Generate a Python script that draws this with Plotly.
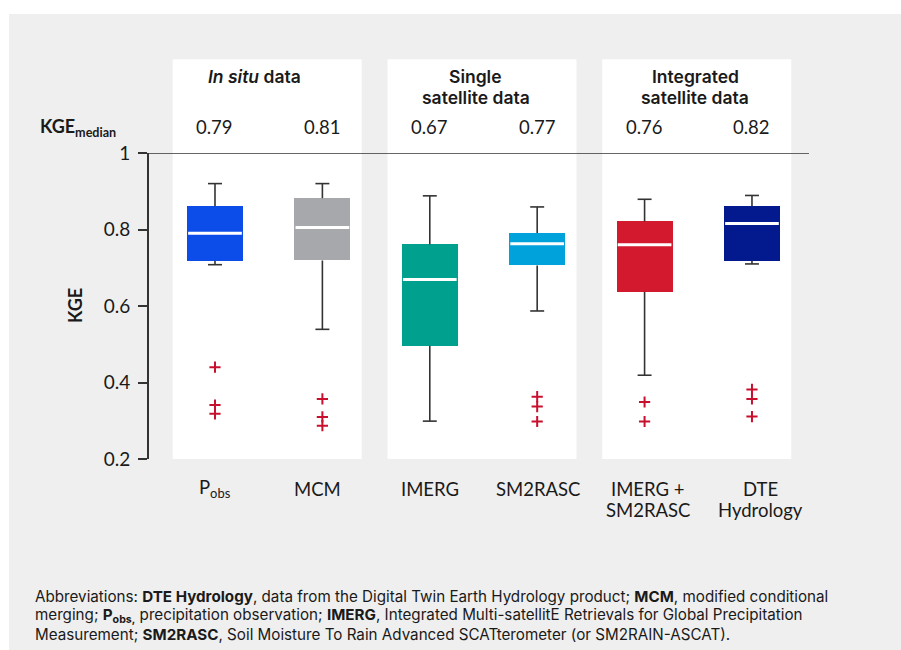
import plotly.graph_objects as go

# ---------------- data ----------------
categories = ["P<sub>obs</sub>", "MCM", "IMERG", "SM2RASC", "IMERG +<br>SM2RASC", "DTE<br>Hydrology"]
q1 = [0.718, 0.719, 0.496, 0.706, 0.637, 0.718]
median = [0.790, 0.805, 0.669, 0.763, 0.760, 0.816]
q3 = [0.861, 0.882, 0.761, 0.791, 0.821, 0.861]
lower_whisker = [0.708, 0.539, 0.299, 0.587, 0.419, 0.710]
upper_whisker = [0.920, 0.920, 0.888, 0.859, 0.879, 0.889]
outliers = [
    [0.440, 0.341, 0.318],
    [0.357, 0.310, 0.287],
    [],
    [0.363, 0.337, 0.298],
    [0.349, 0.298],
    [0.382, 0.357, 0.311],
]
median_labels = ["0.79", "0.81", "0.67", "0.77", "0.76", "0.82"]
group_titles = ["<i>In situ</i> data", "Single<br>satellite data", "Integrated<br>satellite data"]
group_members = [[0, 1], [2, 3], [4, 5]]
y_ticks = [0.2, 0.4, 0.6, 0.8, 1.0]
y_tick_labels = ["0.2", "0.4", "0.6", "0.8", "1"]
caption_lines = [
    "Abbreviations: <b>DTE Hydrology</b>, data from the Digital Twin Earth Hydrology product; <b>MCM</b>, modified conditional",
    "merging; <b>P<sub>obs,</sub></b> precipitation observation; <b>IMERG</b>, Integrated Multi-satellitE Retrievals for Global Precipitation",
    "Measurement; <b>SM2RASC</b>, Soil Moisture To Rain Advanced SCATterometer (or SM2RAIN-ASCAT).",
]

# ---------------- styles ----------------
box_colors = ["#0c4ce8", "#a7a8ab", "#00a08f", "#00a2dc", "#d2192e", "#021a8e"]
FONT = "Lato, 'Open Sans', sans-serif"
TITLE_FONT = "Inter, Lato, sans-serif"
CAP_FONT = "Inter, Lato, sans-serif"
TXT = "#1a1a1a"
BG = "#efefef"
W, H = 901, 650
ML, MR, MT, MB = 149, 92, 153, 191
XMIN, XMAX = -0.6145, 5.531
BOXW = 0.52
CAPW = 0.065
title_dx = [-0.128, -0.07, -0.03]
label_xshift = [0, -5, 0, 1, 3, 9]

plot_w = W - ML - MR
plot_h = H - MT - MB


def px_x(xd):
    return (xd - XMIN) / (XMAX - XMIN)


def py(pix):  # pixel y -> paper y
    return (H - MB - pix) / plot_h


def pxp(pix):  # pixel x -> paper x
    return (pix - ML) / plot_w


xs = list(range(len(categories)))
fig = go.Figure()

# whiskers
wx, wy = [], []
for i in xs:
    wx += [i, i, None, i - CAPW, i + CAPW, None, i, i, None, i - CAPW, i + CAPW, None]
    wy += [q3[i], upper_whisker[i], None, upper_whisker[i], upper_whisker[i], None,
           q1[i], lower_whisker[i], None, lower_whisker[i], lower_whisker[i], None]
fig.add_trace(go.Scatter(x=wx, y=wy, mode="lines", line=dict(color="#333333", width=1.6),
                         hoverinfo="skip", showlegend=False))

# boxes
fig.add_trace(go.Bar(x=xs, y=[q3[i] - q1[i] for i in xs], base=q1, width=BOXW,
                     textposition="none",
                     marker=dict(color=box_colors, line=dict(width=0)), showlegend=False))

# medians
mx, my = [], []
for i in xs:
    mx += [i - BOXW / 2 + 0.01, i + BOXW / 2 - 0.01, None]
    my += [median[i], median[i], None]
fig.add_trace(go.Scatter(x=mx, y=my, mode="lines", line=dict(color="white", width=3),
                         hoverinfo="skip", showlegend=False))

# outliers
ox, oy = [], []
for i in xs:
    for v in outliers[i]:
        ox.append(i)
        oy.append(v)
fig.add_trace(go.Scatter(x=ox, y=oy, mode="markers",
                         marker=dict(symbol="cross-thin", size=8, line=dict(color="#c8102e", width=2)),
                         showlegend=False))

shapes = []
# white strips outside the gray card (top and left)
shapes.append(dict(type="rect", xref="paper", yref="paper", x0=pxp(-5), x1=pxp(910),
                   y0=py(14), y1=py(-5), fillcolor="white", line=dict(width=0), layer="below"))
shapes.append(dict(type="rect", xref="paper", yref="paper", x0=pxp(-5), x1=pxp(9),
                   y0=py(660), y1=py(-5), fillcolor="white", line=dict(width=0), layer="below"))
# white group panels
for mem in group_members:
    shapes.append(dict(type="rect", xref="paper", yref="paper",
                       x0=px_x(mem[0] - 0.394), x1=px_x(mem[1] + 0.366),
                       y0=0, y1=py(59.3), fillcolor="white", line=dict(width=0), layer="below"))
# top line at KGE = 1
shapes.append(dict(type="line", xref="paper", yref="y", x0=0, x1=1, y0=1, y1=1,
                   line=dict(color="#333333", width=1.6)))

annotations = []
for g, mem in enumerate(group_members):
    cx = (mem[0] + mem[1]) / 2 + title_dx[g]
    for k, line in enumerate(group_titles[g].split("<br>")):
        annotations.append(dict(x=cx, xref="x", y=py(76.5 + 21 * k), yref="paper",
                                text=line, showarrow=False, xanchor="center", yanchor="middle",
                                font=dict(family=TITLE_FONT, size=17.5, color=TXT, weight=600)))
for i in xs:
    annotations.append(dict(x=i, xref="x", y=py(127), yref="paper", text=median_labels[i],
                            showarrow=False, xanchor="center", yanchor="middle",
                            font=dict(family=FONT, size=18.5, color=TXT)))
    for k, line in enumerate(categories[i].split("<br>")):
        annotations.append(dict(x=i, xref="x", y=py(488.5 + 21.5 * k), yref="paper", text=line,
                                xshift=label_xshift[i],
                                showarrow=False, xanchor="center", yanchor="middle",
                                font=dict(family=FONT, size=18.5, color=TXT)))
annotations.append(dict(x=pxp(118), xref="paper", y=py(127), yref="paper",
                        text="KGE<sub>median</sub>", showarrow=False, xanchor="right", yanchor="middle",
                        font=dict(family=FONT, size=18, color=TXT, weight="bold")))
annotations.append(dict(x=pxp(75), xref="paper", y=0.5, yref="paper", text="KGE", textangle=-90,
                        showarrow=False, xanchor="center", yanchor="middle",
                        font=dict(family=FONT, size=18, color=TXT, weight="bold")))
for k, line in enumerate(caption_lines):
    annotations.append(dict(x=pxp(33), xref="paper", y=py(596.5 + 18.8 * k), yref="paper", text=line,
                            showarrow=False, xanchor="left", yanchor="middle", align="left",
                            font=dict(family=CAP_FONT, size=15.2, color=TXT)))

fig.update_layout(
    width=W, height=H,
    margin=dict(l=ML, r=MR, t=MT, b=MB),
    paper_bgcolor=BG, plot_bgcolor="rgba(0,0,0,0)",
    barmode="overlay", bargap=0,
    shapes=shapes, annotations=annotations,
    font=dict(family=FONT, color=TXT),
    xaxis=dict(range=[XMIN, XMAX], tickvals=xs, showticklabels=False, showgrid=False,
               zeroline=False, showline=False, ticks=""),
    yaxis=dict(range=[0.2, 1.0], tickvals=y_ticks, ticktext=y_tick_labels, showgrid=False,
               zeroline=False, showline=True, linecolor="#333333", linewidth=2,
               ticks="outside", ticklen=9, tickwidth=2, tickcolor="#333333",
               ticklabelstandoff=4, tickfont=dict(family=FONT, size=19, color=TXT)),
)

fig.write_html(
    "out.html",
    config={"displayModeBar": False},
    post_script="document.body.style.margin='0px';document.body.style.overflow='hidden';"
                "document.body.style.background='" + BG + "';",
)
